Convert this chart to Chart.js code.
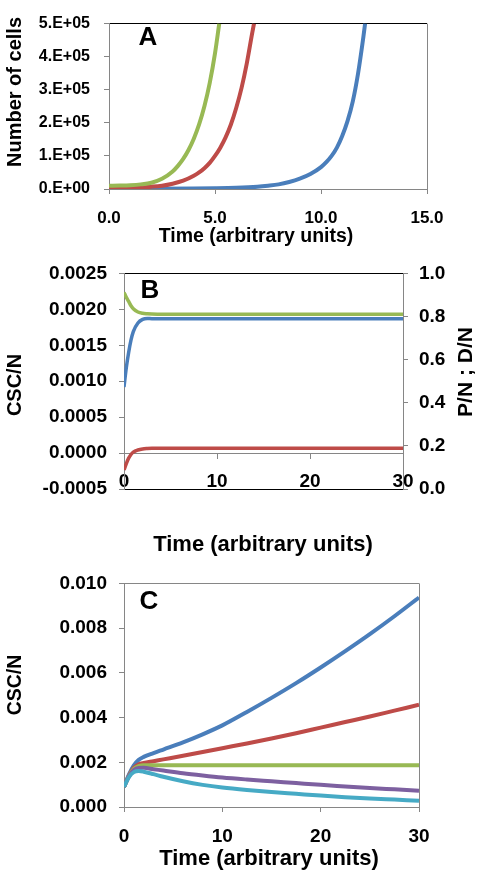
<!DOCTYPE html>
<html>
<head>
<meta charset="utf-8">
<script src="https://cdn.jsdelivr.net/npm/chart.js@4.4.1/dist/chart.umd.min.js"></script>
<style>
  body { margin: 0; background: #fff; }
  .panel { position: absolute; left: 0; }
</style>
</head>
<body>
<div class="panel" style="top:0"><canvas id="chartA" width="479" height="250"></canvas></div>
<div class="panel" style="top:250px"><canvas id="chartB" width="479" height="310"></canvas></div>
<div class="panel" style="top:560px"><canvas id="chartC" width="479" height="316"></canvas></div>
<script>
// Panel A - number of cells vs time (three curves)
const aGreenT = [0, 0.5, 1, 1.5, 2, 2.5, 3, 3.25, 3.5, 3.75, 4, 4.25, 4.5, 4.75, 5, 5.2];
const aGreenN = [1.0e4, 1.05e4, 1.15e4, 1.4e4, 1.9e4, 3.1e4, 5.3e4, 7.0e4, 9.1e4, 1.18e5, 1.52e5, 1.95e5, 2.5e5, 3.2e5, 4.1e5, 5.0e5];
const aRedT = [0, 1, 2, 2.5, 3, 3.5, 4, 4.25, 4.5, 4.75, 5, 5.25, 5.5, 5.75, 6, 6.25, 6.5, 6.75, 6.84];
const aRedN = [2.0e3, 3.5e3, 7.0e3, 1.0e4, 1.6e4, 2.5e4, 4.0e4, 5.0e4, 6.3e4, 7.9e4, 1.0e5, 1.25e5, 1.56e5, 1.95e5, 2.45e5, 3.05e5, 3.8e5, 4.7e5, 5.0e5];
const aBlueT = [0, 2, 4, 5, 6, 7, 7.5, 8, 8.5, 9, 9.5, 10, 10.25, 10.5, 10.75, 11, 11.25, 11.5, 11.75, 12, 12.08];
const aBlueN = [200, 500, 1300, 2200, 3800, 7000, 1.0e4, 1.4e4, 2.1e4, 3.1e4, 4.5e4, 6.6e4, 8.1e4, 1.0e5, 1.25e5, 1.6e5, 2.05e5, 2.65e5, 3.5e5, 4.6e5, 5.0e5];
const aXTicks = [0, 15, 5];        // min, max, step
const aYTicks = [0, 5e5, 1e5];

// Panel B - CSC/N (left axis), P/N and D/N (right axis)
const bTime = [0, 0.25, 0.5, 0.75, 1, 1.5, 2, 2.5, 3, 4, 6, 10, 15, 20, 25, 30];
const bCsc = [0.00092, 0.00119, 0.00140, 0.00157, 0.00169, 0.00181, 0.00186, 0.001872, 0.00187, 0.00187, 0.00187, 0.00187, 0.00187, 0.00187, 0.00187, 0.00187];
const bP = [0.912, 0.889, 0.870, 0.850, 0.836, 0.821, 0.815, 0.813, 0.812, 0.811, 0.811, 0.811, 0.811, 0.811, 0.811, 0.811];
const bD = [0.088, 0.118, 0.143, 0.160, 0.171, 0.181, 0.186, 0.188, 0.189, 0.189, 0.189, 0.189, 0.189, 0.189, 0.189, 0.189];
const bXTicks = [0, 30, 10];
const bYTicks = [-0.0005, 0.0025, 0.0005];
const bY1Ticks = [0, 1, 0.2];

// Panel C - CSC/N for five scenarios
const cTime = [0, 0.5, 1, 1.5, 2, 3, 4, 6, 8, 10, 12.5, 15, 17.5, 20, 22.5, 25, 27.5, 30];
const cBlue = [0.0009, 0.00145, 0.00186, 0.00211, 0.00224, 0.00241, 0.00257, 0.00289, 0.00325, 0.00365, 0.00425, 0.00488, 0.00554, 0.00624, 0.00697, 0.00773, 0.00853, 0.00937];
const cRed = [0.0009, 0.00140, 0.00175, 0.00191, 0.00197, 0.00205, 0.00213, 0.00229, 0.00246, 0.00263, 0.00284, 0.00306, 0.00330, 0.00355, 0.00380, 0.00405, 0.00431, 0.00457];
const cGreen = [0.0009, 0.00138, 0.00170, 0.00183, 0.00187, 0.00187, 0.00187, 0.00187, 0.00187, 0.00187, 0.00187, 0.00187, 0.00187, 0.00187, 0.00187, 0.00187, 0.00187, 0.00187];
const cPurple = [0.0009, 0.00137, 0.00165, 0.00174, 0.00175, 0.00169, 0.00163, 0.00151, 0.00141, 0.00132, 0.00123, 0.00115, 0.00107, 0.00099, 0.00092, 0.00085, 0.00079, 0.00073];
const cCyan = [0.0009, 0.00134, 0.00156, 0.00161, 0.00158, 0.00147, 0.00135, 0.00115, 0.00099, 0.00087, 0.00076, 0.00067, 0.00059, 0.00051, 0.00044, 0.00038, 0.00033, 0.00028];
const cXTicks = [0, 30, 10];
const cYTicks = [0, 0.01, 0.002];

const BLUE = '#4A7EBB', RED = '#BE4B48', GREEN = '#98B954', PURPLE = '#7D60A0', CYAN = '#46AAC5';
const GRAY = '#868686';
const FONT = '"Liberation Sans", Arial, sans-serif';

Chart.defaults.font.family = FONT;
Chart.defaults.font.weight = 'bold';
Chart.defaults.font.size = 19;
Chart.defaults.color = '#000';

function pts(xs, ys) {
  return xs.map((x, i) => ({ x: x, y: ys[i] }));
}

function line(xs, ys, color, width, axis) {
  const ds = {
    data: pts(xs, ys),
    borderColor: color,
    borderWidth: width,
    pointRadius: 0,
    fill: false,
    cubicInterpolationMode: 'monotone'
  };
  if (axis) ds.yAxisID = axis;
  return ds;
}

function near(a, b) { return Math.abs(a - b) < 1e-9; }

// grid line only at the listed values (used for the frame lines)
function frameColor(list) {
  return c => {
    for (const f of list) if (near(c.tick.value, f[0])) return f[1];
    return 'transparent';
  };
}

// free text: panel letters and axis titles
const textPlugin = {
  id: 'panelText',
  afterDraw(chart, args, opts) {
    const ctx = chart.ctx;
    opts.items.forEach(it => {
      ctx.save();
      ctx.font = 'bold ' + it.size + 'px ' + FONT;
      ctx.fillStyle = '#000';
      ctx.textAlign = 'center';
      ctx.textBaseline = 'middle';
      ctx.translate(it.x, it.y);
      if (it.rot) ctx.rotate(-Math.PI / 2);
      ctx.fillText(it.text, 0, 0);
      ctx.restore();
    });
  }
};

const baseOpts = {
  responsive: false,
  animation: false,
  plugins: { legend: { display: false }, tooltip: { enabled: false } }
};

// ---- A ----
new Chart(document.getElementById('chartA'), {
  type: 'line',
  data: {
    datasets: [
      line(aGreenT, aGreenN, GREEN, 4),
      line(aRedT, aRedN, RED, 4),
      line(aBlueT, aBlueN, BLUE, 4)
    ]
  },
  plugins: [textPlugin],
  options: Object.assign({}, baseOpts, {
    layout: { padding: { top: 10, right: 52, left: 0, bottom: 0 } },
    plugins: Object.assign({}, baseOpts.plugins, {
      panelText: { items: [
        { text: 'A', x: 148, y: 38, size: 26 },
        { text: 'Number of cells', x: 15, y: 92, size: 20, rot: true },
        { text: 'Time (arbitrary units)', x: 256, y: 237, size: 19.5 }
      ] }
    }),
    scales: {
      x: {
        type: 'linear', min: aXTicks[0], max: aXTicks[1],
        ticks: { stepSize: aXTicks[2], padding: 14, font: { size: 17 }, callback: v => v.toFixed(1) },
        grid: { color: frameColor([[aXTicks[1], GRAY]]), tickColor: GRAY, tickLength: 5 },
        border: { color: GRAY },
        afterFit: s => { s.height = 61; }
      },
      y: {
        min: aYTicks[0], max: aYTicks[1],
        ticks: { stepSize: aYTicks[2], padding: 14, font: { size: 16 },
          callback: v => v === 0 ? '0.E+00' : Math.round(v / 1e5) + '.E+05' },
        grid: { color: frameColor([[aYTicks[1], '#000']]), tickColor: GRAY, tickLength: 5 },
        border: { color: GRAY },
        afterFit: s => { s.width = 109; }
      }
    }
  })
});

// ---- B ----
new Chart(document.getElementById('chartB'), {
  type: 'line',
  data: {
    datasets: [
      line(bTime, bP, GREEN, 3.5, 'y1'),
      line(bTime, bD, RED, 3.5, 'y1'),
      line(bTime, bCsc, BLUE, 3.5, 'y')
    ]
  },
  plugins: [textPlugin],
  options: Object.assign({}, baseOpts, {
    layout: { padding: { top: 21, right: 0, left: 0, bottom: 71 } },
    plugins: Object.assign({}, baseOpts.plugins, {
      panelText: { items: [
        { text: 'B', x: 150, y: 41, size: 26 },
        { text: 'CSC/N', x: 15, y: 135, size: 20, rot: true },
        { text: 'P/N ; D/N', x: 466, y: 122, size: 21, rot: true },
        { text: 'Time (arbitrary units)', x: 263, y: 295, size: 22 }
      ] }
    }),
    scales: {
      x: {
        type: 'linear', position: { y: 0 }, min: bXTicks[0], max: bXTicks[1],
        ticks: { stepSize: bXTicks[2], padding: 12 },
        grid: { color: 'transparent', tickColor: GRAY, tickLength: 5 },
        border: { color: GRAY }
      },
      y: {
        position: 'left', min: bYTicks[0], max: bYTicks[1],
        ticks: { stepSize: bYTicks[2], padding: 12, callback: v => v.toFixed(4) },
        grid: { color: frameColor([[bYTicks[0], '#000'], [bYTicks[1], '#000']]), tickColor: GRAY, tickLength: 5 },
        border: { color: GRAY },
        afterFit: s => { s.width = 124; }
      },
      y1: {
        position: 'right', min: bY1Ticks[0], max: bY1Ticks[1],
        ticks: { stepSize: bY1Ticks[2], padding: 11, callback: v => v.toFixed(1) },
        grid: { drawOnChartArea: false, color: GRAY, tickLength: 5 },
        border: { color: GRAY },
        afterFit: s => { s.width = 76; }
      }
    }
  })
});

// ---- C ----
new Chart(document.getElementById('chartC'), {
  type: 'line',
  data: {
    datasets: [
      line(cTime, cCyan, CYAN, 4),
      line(cTime, cPurple, PURPLE, 4),
      line(cTime, cGreen, GREEN, 4),
      line(cTime, cRed, RED, 4),
      line(cTime, cBlue, BLUE, 4)
    ]
  },
  plugins: [textPlugin],
  options: Object.assign({}, baseOpts, {
    layout: { padding: { top: 18, right: 60, left: 0, bottom: 0 } },
    plugins: Object.assign({}, baseOpts.plugins, {
      panelText: { items: [
        { text: 'C', x: 149, y: 42, size: 26 },
        { text: 'CSC/N', x: 16, y: 125, size: 19.5, rot: true },
        { text: 'Time (arbitrary units)', x: 269, y: 299, size: 22 }
      ] }
    }),
    scales: {
      x: {
        type: 'linear', min: cXTicks[0], max: cXTicks[1],
        ticks: { stepSize: cXTicks[2], padding: 13 },
        grid: { color: frameColor([[cXTicks[1], GRAY]]), tickColor: GRAY, tickLength: 5 },
        border: { color: GRAY },
        afterFit: s => { s.height = 69; }
      },
      y: {
        min: cYTicks[0], max: cYTicks[1],
        ticks: { stepSize: cYTicks[2], padding: 12, callback: v => v.toFixed(3) },
        grid: { color: frameColor([[cYTicks[1], GRAY]]), tickColor: GRAY, tickLength: 5 },
        border: { color: GRAY },
        afterFit: s => { s.width = 124; }
      }
    }
  })
});
</script>
</body>
</html>
